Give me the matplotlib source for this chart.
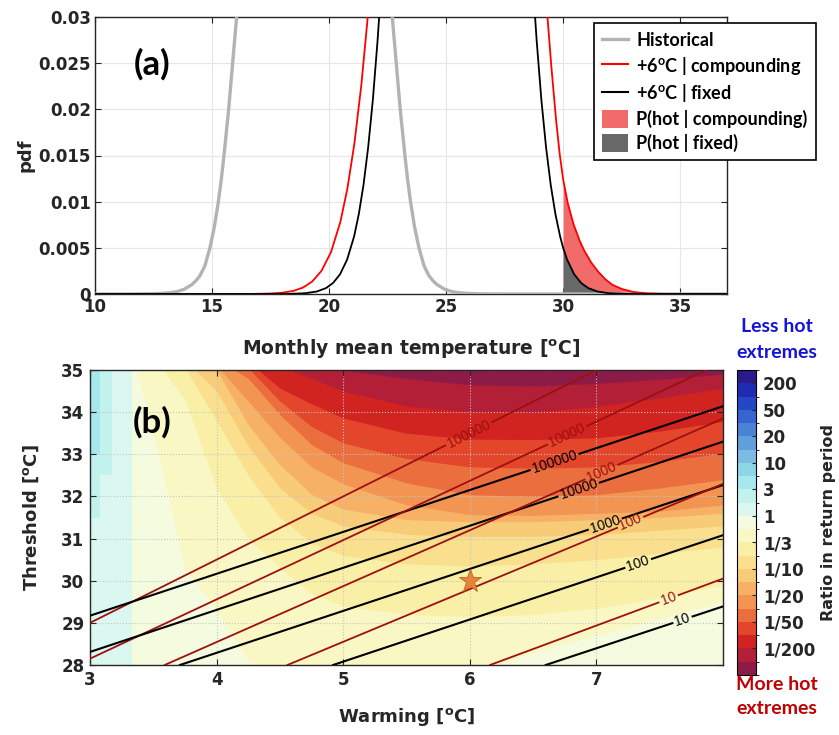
import numpy as np
import matplotlib
matplotlib.use('Agg')
import matplotlib.pyplot as plt
from matplotlib.colors import ListedColormap, BoundaryNorm
from matplotlib.cm import ScalarMappable
from matplotlib.patches import Patch
from matplotlib.lines import Line2D

plt.rcParams['font.family'] = ['DejaVu Sans']
plt.rcParams['font.weight'] = 'bold'
plt.rcParams['axes.labelweight'] = 'bold'
plt.rcParams['mathtext.fontset'] = 'custom'
plt.rcParams['mathtext.rm'] = 'DejaVu Sans:bold'
plt.rcParams['mathtext.it'] = 'DejaVu Sans:bold'
plt.rcParams['mathtext.bf'] = 'DejaVu Sans:bold'

##################
# panel (a): pdf curves
##################
hist_t = [10.0, 11.5, 12.3, 12.8, 13.2, 13.5, 13.8, 14.13, 14.3, 14.49, 14.7, 14.91, 15.1, 15.27,
          15.4, 15.51, 15.71, 15.88, 16.05, 16.2,
          22.55, 22.70, 22.87, 23.04, 23.24, 23.35, 23.48, 23.65, 23.84, 24.05, 24.26, 24.45,
          24.62, 24.95, 25.25, 25.55, 25.95, 26.45, 27.25, 37.0]
hist_p = [0.0, 0.0, 0.00002, 0.00006, 0.00014, 0.00026, 0.0005, 0.001, 0.0014, 0.002, 0.0031,
          0.005, 0.0073, 0.01, 0.0125, 0.015, 0.02, 0.025, 0.03, 0.033,
          0.033, 0.03, 0.025, 0.02, 0.015, 0.0125, 0.01, 0.0073, 0.005, 0.0031, 0.002, 0.0014,
          0.001, 0.0005, 0.00026, 0.00014, 0.00006, 0.00002, 0.0, 0.0]

comp_t = [10.0, 16.48, 17.48, 17.98, 18.48, 18.88, 19.28, 19.68, 20.08, 20.48, 20.78, 21.08,
          21.38, 21.63, 21.78,
          29.25, 29.33, 29.5, 29.7, 29.85, 30.0, 30.2, 30.45, 30.7, 30.9, 31.2, 31.5, 31.8,
          32.1, 32.5, 33.0, 33.6, 34.4, 37.0]
comp_p = [0.0, 0.0, 0.000048, 0.000132, 0.00034, 0.00069, 0.00135, 0.00252, 0.00452, 0.00778,
          0.01138, 0.01626, 0.02267, 0.02939, 0.03407,
          0.033, 0.03, 0.0245, 0.0188, 0.0152, 0.0124, 0.0098, 0.0075, 0.0058, 0.0047, 0.0034,
          0.0024, 0.0016, 0.0010, 0.00055, 0.00022, 0.00006, 0.0, 0.0]

fix_t = [10.0, 17.47, 18.27, 18.97, 19.47, 19.87, 20.17, 20.47, 20.77, 21.07, 21.27, 21.47,
         21.67, 21.87, 22.07, 22.17,
         28.77, 28.87, 29.07, 29.27, 29.47, 29.67, 29.87, 30.0, 30.17, 30.47, 30.77, 31.07,
         31.47, 31.97, 32.67, 33.47, 37.0]
fix_p = [0.0, 0.0, 0.000013, 0.000081, 0.000265, 0.00064, 0.00119, 0.00214, 0.00372, 0.00624,
         0.00865, 0.0118, 0.01588, 0.02102, 0.0274, 0.03114,
         0.03114, 0.0274, 0.02102, 0.01588, 0.0118, 0.00865, 0.00624, 0.0050, 0.00372, 0.00214,
         0.00119, 0.00064, 0.000265, 0.000081, 0.000013, 0.0, 0.0]

hot_threshold = 30.0

##################
# panel (b): colour bands of the return period ratio
##################
ratio_labels = ['1/200', '1/50', '1/20', '1/10', '1/3', '1', '3', '10', '20', '50', '200']
band_colors = ['#8c1c47', '#b21f37', '#d12320', '#e3462b', '#eb6e3e', '#f29553', '#f6b166',
               '#f8cb79', '#f9df8e', '#faefa6', '#f9f7c4', '#f4fbdf', '#dbf8f0', '#c1f2ee',
               '#a6e8ec', '#8dd5e7', '#7bbce2', '#5f9fdb', '#4a82d6', '#3565d0', '#2547c6',
               '#1f2caf', '#2b1a8a']

# threshold where band k-1 (above) meets band k (below), per warming column
warm_cols = [3.33, 3.5, 3.75, 4.0, 4.25, 4.5, 4.75, 5.0, 5.5, 6.0, 6.5, 7.0, 7.5, 8.0]
e01 = [38.0, 37.6, 37.0, 36.5, 36.0, 35.6, 35.3, 35.0, 34.8, 34.65, 34.62, 34.68, 34.78, 34.9]
e02 = [37.5, 37.0, 36.3, 35.8, 35.4, 35.1, 34.8, 34.5, 34.15, 34.0, 34.0, 34.14, 34.34, 34.57]
e03 = [37.0, 36.5, 36.0, 35.5, 35.2, 34.57, 34.2, 33.86, 33.5, 33.36, 33.35, 33.39, 33.55, 33.78]
e04 = [36.8, 36.3, 35.8, 35.4, 35.05, 34.26, 33.66, 33.27, 32.9, 32.7, 32.67, 32.7, 32.83, 33.03]
e05 = [36.5, 36.1, 35.6, 35.25, 34.8, 33.94, 33.23, 32.8, 32.32, 32.04, 32.0, 32.04, 32.2, 32.4]
e06 = [36.3, 35.9, 35.4, 35.1, 34.26, 33.4, 32.7, 32.3, 31.8, 31.57, 31.55, 31.6, 31.65, 31.8]
e07 = [36.2, 35.8, 35.3, 35.0, 33.7, 32.75, 32.05, 31.7, 31.45, 31.4, 31.4, 31.45, 31.5, 31.6]
e08 = [36.0, 35.7, 35.25, 34.5, 33.2, 32.2, 31.6, 31.3, 31.1, 31.05, 31.05, 31.1, 31.2, 31.3]
e09 = [35.8, 35.5, 35.05, 33.8, 32.5, 31.5, 30.9, 30.6, 30.4, 30.35, 30.4, 30.5, 30.65, 30.8]
e10 = [35.6, 35.3, 34.3, 32.2, 31.0, 30.3, 29.7, 29.4, 29.2, 29.15, 29.2, 29.35, 29.6, 29.9]
e11 = [35.4, 33.5, 30.3, 29.3, 28.1, 27.8, 27.6, 27.5, 27.5, 27.8, 28.3, 28.7, 29.1, 29.5]
band_edges = [e01, e02, e03, e04, e05, e06, e07, e08, e09, e10, e11]

# narrow strip at low warming (less hot extremes), blocky columns
strip_w = [3.0, 3.08, 3.17, 3.33]
strip_e13 = [33.0, 36.0, 36.0, 36.0]
strip_e12 = [31.5, 32.5, 36.0, 36.0]

# return period contours: (warming, threshold) end points and label position
rp_levels = ['100000', '10000', '1000', '100', '10']
comp_start = [(3.0, 29.0), (3.0, 28.15), (3.59, 28.0), (4.56, 28.0), (6.16, 28.0)]
comp_end = [(7.0, 35.0), (7.87, 35.0), (8.0, 33.85), (8.0, 32.3), (8.0, 30.05)]
comp_label_w = [5.99, 6.77, 7.04, 7.27, 7.57]
fix_start = [(3.0, 29.17), (3.0, 28.31), (3.71, 28.0), (4.92, 28.0), (6.6, 28.0)]
fix_end = [(8.0, 34.14), (8.0, 33.3), (8.0, 32.27), (8.0, 31.08), (8.0, 29.39)]
fix_label_w = [6.67, 6.86, 7.07, 7.33, 7.68]

star_w, star_t = 6.0, 30.0

##################
fig = plt.figure(figsize=(8.39, 7.35), dpi=100)
W, H = 839., 735.
dark = '#262626'
deg = r'[$^{\mathregular{o}}$C]'

# ---------------- (a)
ax1 = fig.add_axes([95/W, 1-294/H, 632/W, 277/H])
ct = np.array(comp_t); cp = np.array(comp_p)
ft = np.array(fix_t); fp = np.array(fix_p)
m = ct >= hot_threshold
ax1.fill_between(ct[m], 0, cp[m], color='#f26b6b', lw=0, zorder=2)
m = ft >= hot_threshold
ax1.fill_between(ft[m], 0, fp[m], color='#686868', lw=0, zorder=2)
ax1.plot(hist_t, hist_p, color='#b3b3b3', lw=2.4, zorder=3)
ax1.plot(comp_t, comp_p, color='#ff0000', lw=1.3, zorder=4)
ax1.plot(fix_t, fix_p, color='#000000', lw=1.3, zorder=5)
ax1.set_xlim(10, 37)
ax1.set_ylim(0, 0.03)
ax1.set_xticks([10, 15, 20, 25, 30, 35])
ax1.set_yticks([0, 0.005, 0.01, 0.015, 0.02, 0.025, 0.03])
ax1.set_yticklabels(['0', '0.005', '0.01', '0.015', '0.02', '0.025', '0.03'])
ax1.grid(True, color='#e6e6e6', lw=0.8)
ax1.set_axisbelow(True)
ax1.tick_params(direction='in', length=4, labelsize=12, top=True, right=True, colors=dark, pad=3)
for sp in ax1.spines.values():
    sp.set_linewidth(1.0)
    sp.set_color(dark)
ax1.set_ylabel('pdf', fontsize=13, color=dark, fontweight='bold')
ax1.yaxis.set_label_coords((34 - 95) / 632, 0.5)
ax1.set_xlabel('Monthly mean temperature ' + deg, fontsize=13.5, color=dark, fontweight='bold')
ax1.xaxis.set_label_coords(0.5, -(338 - 294) / 277)
ax1.text(152/W, 1-64/H, '(a)', transform=fig.transFigure, ha='center', va='center',
         family='Lato', fontweight='bold', fontsize=25)

handles = [Line2D([], [], color='#b3b3b3', lw=2.4),
           Line2D([], [], color='#ff0000', lw=1.5),
           Line2D([], [], color='#000000', lw=1.5),
           Patch(facecolor='#f26b6b', edgecolor='none'),
           Patch(facecolor='#686868', edgecolor='none')]
labels = ['Historical', r'+6$^{\mathregular{o}}$C | compounding', r'+6$^{\mathregular{o}}$C | fixed',
          'P(hot | compounding)', 'P(hot | fixed)']
leg = fig.legend(handles, labels, loc='upper left', bbox_to_anchor=(594/W, 1-23/H),
                 frameon=True, fancybox=False, edgecolor='black', framealpha=1,
                 prop={'family': 'Lato', 'weight': 'bold', 'size': 13},
                 handlelength=1.45, handleheight=1.2, handletextpad=0.45, labelspacing=0.3,
                 borderpad=0.45, borderaxespad=0)
leg.get_frame().set_linewidth(1.2)

# ---------------- (b)
ax2 = fig.add_axes([90/W, 1-665/H, 633/W, 295/H])
ax2.set_xlim(3, 8)
ax2.set_ylim(28, 35)

ax2.fill_between(warm_cols, 27, 36, color=band_colors[0], lw=0, zorder=1)
for k, edge in enumerate(band_edges, start=1):
    ax2.fill_between(warm_cols, 27, edge, color=band_colors[k], lw=0, zorder=1)
ax2.fill_between([strip_w[0], strip_w[-1]], 27, 36, color=band_colors[14], lw=0, zorder=1)
ax2.fill_between(strip_w, 27, strip_e13, step='post', color=band_colors[13], lw=0, zorder=1)
ax2.fill_between(strip_w, 27, strip_e12, step='post', color=band_colors[12], lw=0, zorder=1)

ax2.set_xticks([3, 4, 5, 6, 7])
ax2.set_yticks(range(28, 36))
ax2.grid(True, color='#c4c4c4', lw=0.8, ls=':')
ax2.set_axisbelow('line')
ax2.tick_params(direction='in', length=4, labelsize=12, top=True, right=True, colors=dark, pad=4)
for sp in ax2.spines.values():
    sp.set_linewidth(1.0)
    sp.set_color(dark)
ax2.set_ylabel('Threshold ' + deg, fontsize=13, color=dark, fontweight='bold')
ax2.yaxis.set_label_coords((41 - 90) / 633, 0.5)
ax2.set_xlabel('Warming ' + deg, fontsize=13, color=dark, fontweight='bold')
ax2.xaxis.set_label_coords(0.5, -(706 - 665) / 295)
ax2.text(152/W, 1-422/H, '(b)', transform=fig.transFigure, ha='center', va='center',
         family='Lato', fontweight='bold', fontsize=25, zorder=6)

renderer = fig.canvas.get_renderer()


def draw_rp(p0, p1, lw_label, text, color, lw):
    (w0, t0), (w1, t1) = p0, p1
    s = (t1 - t0) / (w1 - w0)
    tl = t0 + s * (lw_label - w0)
    d0 = ax2.transData.transform((w0, t0))
    d1 = ax2.transData.transform((w1, t1))
    u = (d1 - d0) / np.hypot(*(d1 - d0))
    ang = np.degrees(np.arctan2(u[1], u[0]))
    txt = ax2.text(lw_label, tl, text, ha='center', va='center', color=color,
                   family='Liberation Sans', fontsize=10, fontweight='normal', zorder=5)
    half = txt.get_window_extent(renderer).width / 2 + 3
    txt.set_rotation(ang)
    txt.set_rotation_mode('anchor')
    dc = ax2.transData.transform((lw_label, tl))
    g0 = ax2.transData.inverted().transform(dc - u * half)
    g1 = ax2.transData.inverted().transform(dc + u * half)
    ax2.plot([w0, g0[0]], [t0, g0[1]], color=color, lw=lw, zorder=4)
    ax2.plot([g1[0], w1], [g1[1], t1], color=color, lw=lw, zorder=4)


for i, lev in enumerate(rp_levels):
    draw_rp(comp_start[i], comp_end[i], comp_label_w[i], lev, '#9e0f0f', 1.3)
    draw_rp(fix_start[i], fix_end[i], fix_label_w[i], lev, '#000000', 1.5)

ax2.plot(star_w, star_t, marker='*', ms=17, color='#e8843a', mec='#b8641f', mew=0.6, zorder=6)

# colorbar
cax = fig.add_axes([737/W, 1-675/H, 19/W, 305/H])
cmap = ListedColormap(band_colors)
norm = BoundaryNorm(np.arange(len(band_colors) + 1), len(band_colors))
cb = fig.colorbar(ScalarMappable(norm=norm, cmap=cmap), cax=cax, ticks=np.arange(2, 23, 2))
cb.ax.set_yticklabels(ratio_labels)
cb.ax.tick_params(direction='in', length=3, labelsize=12, colors=dark, pad=5)
cb.outline.set_linewidth(0.8)
cb.set_label('Ratio in return period', fontsize=11.5, color=dark, fontweight='bold', labelpad=4)

fig.text(777/W, 1-327/H, 'Less hot', color='#1414d8', ha='center', va='center',
         family='Lato', fontweight='bold', fontsize=14)
fig.text(777/W, 1-353/H, 'extremes', color='#1414d8', ha='center', va='center',
         family='Lato', fontweight='bold', fontsize=14)
fig.text(777/W, 1-684/H, 'More hot', color='#c00000', ha='center', va='center',
         family='Lato', fontweight='bold', fontsize=14)
fig.text(777/W, 1-709/H, 'extremes', color='#c00000', ha='center', va='center',
         family='Lato', fontweight='bold', fontsize=14)

fig.savefig('out.png', dpi=100)
